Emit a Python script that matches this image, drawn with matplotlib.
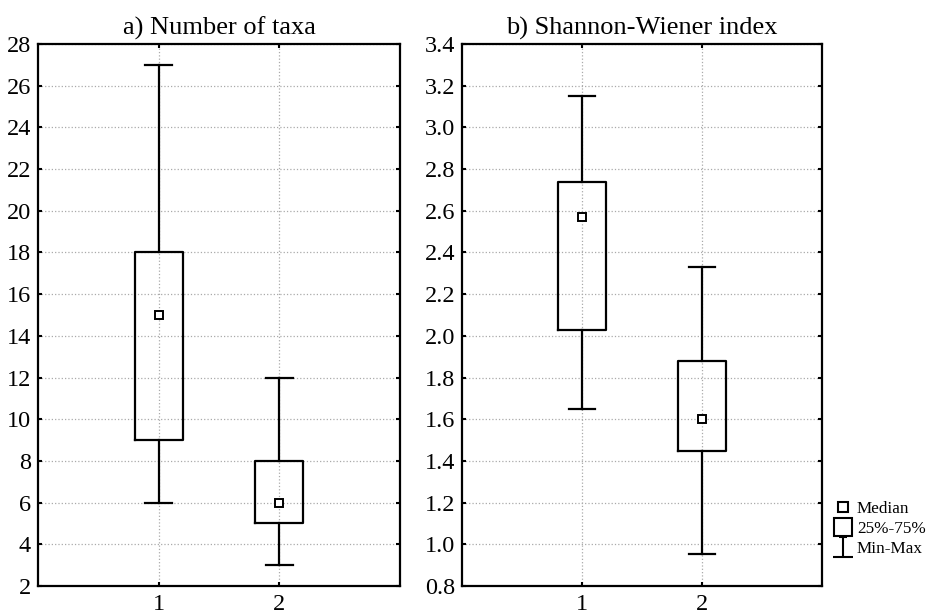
import matplotlib
matplotlib.use("Agg")
import matplotlib.pyplot as plt
from matplotlib.lines import Line2D
from matplotlib.path import Path

plt.rcParams['font.family'] = ['Liberation Serif', 'DejaVu Serif']

groups = [1, 2]

# a) Number of taxa
taxa_min = [6, 3]
taxa_q1 = [9, 5]
taxa_med = [15, 6]
taxa_q3 = [18, 8]
taxa_max = [27, 12]

# b) Shannon-Wiener index
sw_min = [1.65, 0.955]
sw_q1 = [2.03, 1.45]
sw_med = [2.57, 1.60]
sw_q3 = [2.74, 1.88]
sw_max = [3.15, 2.33]

taxa_ticks = list(range(2, 29, 2))
sw_ticks = [0.8, 1.0, 1.2, 1.4, 1.6, 1.8, 2.0, 2.2, 2.4, 2.6, 2.8, 3.0, 3.2, 3.4]


def make_stats(mins, q1s, meds, q3s, maxs):
    stats = []
    for lo, q1, med, q3, hi in zip(mins, q1s, meds, q3s, maxs):
        stats.append({"whislo": lo, "q1": q1, "med": med, "q3": q3, "whishi": hi, "fliers": []})
    return stats


def draw_panel(ax, stats, meds, ticks, labels, title):
    lw = 1.6
    ax.bxp(stats, positions=groups, widths=0.4, capwidths=0.22, showfliers=False,
           boxprops=dict(color="black", linewidth=lw),
           whiskerprops=dict(color="black", linewidth=lw),
           capprops=dict(color="black", linewidth=lw),
           medianprops=dict(linewidth=0))
    ax.plot(groups, meds, "s", ms=6.3, mfc="white", mec="black", mew=1.4, zorder=5)
    ax.set_xlim(0, 3)
    ax.set_ylim(ticks[0], ticks[-1])
    ax.set_yticks(ticks)
    ax.set_yticklabels(labels)
    ax.set_xticks(groups)
    ax.set_xticklabels([str(g) for g in groups])
    ax.grid(True, linestyle=":", color="#aaaaaa", linewidth=0.9)
    ax.set_axisbelow(True)
    ax.tick_params(direction="in", length=3, width=1.5, top=True, right=True,
                   labelsize=17.5, pad=5)
    ax.tick_params(axis="x", pad=6)
    for sp in ax.spines.values():
        sp.set_linewidth(1.6)
    ax.set_title(title, fontsize=19, pad=7)


fig = plt.figure(figsize=(9.31, 6.14), dpi=100)
ax1 = fig.add_axes([38 / 931, 28 / 614, 362 / 931, 542 / 614])
ax2 = fig.add_axes([462 / 931, 28 / 614, 360 / 931, 542 / 614])

draw_panel(ax1, make_stats(taxa_min, taxa_q1, taxa_med, taxa_q3, taxa_max), taxa_med,
           taxa_ticks, [str(t) for t in taxa_ticks], "a) Number of taxa")
draw_panel(ax2, make_stats(sw_min, sw_q1, sw_med, sw_q3, sw_max), sw_med,
           sw_ticks, [f"{t:.1f}" for t in sw_ticks], "b) Shannon-Wiener index")

# legend symbols
minmax_marker = Path([(0, 1), (0, -1), (-1, -1), (1, -1), (-0.4, 1), (0.4, 1)],
                     [Path.MOVETO, Path.LINETO, Path.MOVETO, Path.LINETO, Path.MOVETO, Path.LINETO])
handles = [
    Line2D([], [], marker="s", ls="", ms=6.5, mfc="white", mec="black", mew=1.5),
    Line2D([], [], marker="s", ls="", ms=12.5, mfc="white", mec="black", mew=1.5),
    Line2D([], [], marker=minmax_marker, ls="", ms=15, mfc="none", mec="black", mew=1.5),
]
fig.legend(handles, ["Median", "25%-75%", "Min-Max"], loc="center left",
           bbox_to_anchor=(826 / 931, 85 / 614), frameon=False, fontsize=12.3,
           handlelength=1.0, handletextpad=0.3, labelspacing=0.25, borderpad=0)

fig.savefig("out.png", dpi=100)
